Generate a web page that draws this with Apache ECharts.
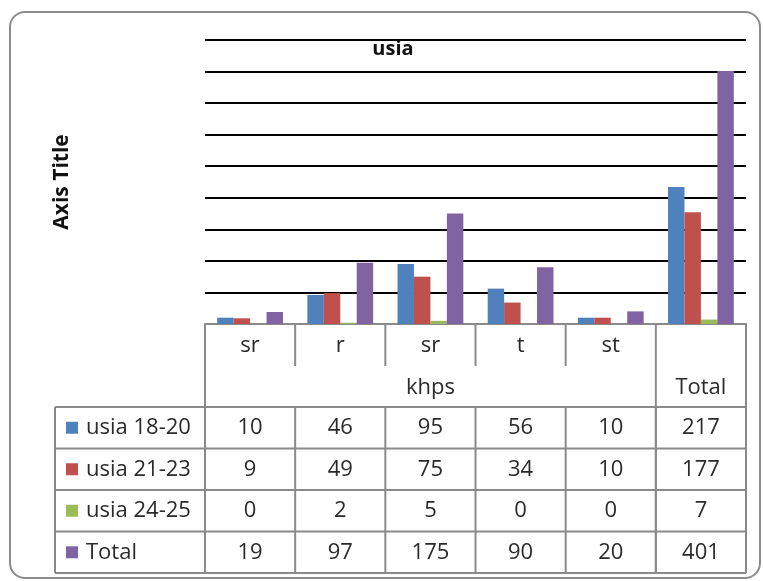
<!DOCTYPE html>
<html>
<head>
<meta charset="utf-8">
<script src="https://cdn.jsdelivr.net/npm/echarts@6/dist/echarts.min.js"></script>
<style>
  html, body { margin: 0; padding: 0; background: #fff; }
  #chart { width: 763px; height: 581px; }
</style>
</head>
<body>
<div id="chart"></div>
<script>
// Category labels (sub-level) and their parent group labels
const categories = ['sr', 'r', 'sr', 't', 'st', 'Total'];
const subLabels = ['sr', 'r', 'sr', 't', 'st', ''];
const groups = [{ name: 'khps', from: 0, to: 4 }, { name: 'Total', from: 5, to: 5 }];

// Series values
const seriesNames = ['usia 18-20', 'usia 21-23', 'usia 24-25', 'Total'];
const usia1820 = [10, 46, 95, 56, 10, 217];
const usia2123 = [9, 49, 75, 34, 10, 177];
const usia2425 = [0, 2, 5, 0, 0, 7];
const totals = [19, 97, 175, 90, 20, 401];
const seriesValues = [usia1820, usia2123, usia2425, totals];

const colors = ['#4F81BD', '#C0504D', '#9BBB59', '#8064A2'];
const font = '"Open Sans", "Noto Sans", sans-serif';
const textColor = '#2a2a2a';
const lineColor = '#8a8a8a';

const chart = echarts.init(document.getElementById('chart'), null, { renderer: 'canvas' });

const option = {
  animation: false,
  backgroundColor: '#fff',
  grid: { left: 205, right: 17, top: 40, bottom: 257, containLabel: false },
  xAxis: {
    type: 'category',
    data: categories,
    axisLine: { show: true, lineStyle: { color: lineColor, width: 2 } },
    axisTick: { show: false },
    axisLabel: { show: false },
    splitLine: { show: false }
  },
  yAxis: {
    type: 'value',
    min: 0,
    max: 450,
    interval: 50,
    name: 'Axis Title',
    nameLocation: 'middle',
    nameRotate: 90,
    nameGap: 132,
    nameTextStyle: { fontFamily: font, fontWeight: 'bold', fontSize: 21, color: '#111' },
    axisLine: { show: false },
    axisTick: { show: false },
    axisLabel: { show: false },
    splitLine: { show: true, lineStyle: { color: '#000', width: 2 } }
  },
  series: seriesValues.map((vals, i) => ({
    name: seriesNames[i],
    type: 'bar',
    data: vals,
    barGap: '0%',
    barCategoryGap: '27%',
    itemStyle: { color: colors[i] }
  }))
};
chart.setOption(option);

// Data table under the plot, aligned to the category bands
function buildTable() {
  const centers = categories.map((c, i) => chart.convertToPixel({ xAxisIndex: 0 }, i));
  const band = centers[1] - centers[0];
  const edges = centers.map(c => c - band / 2).concat([centers[centers.length - 1] + band / 2]);
  const axisY = chart.convertToPixel({ yAxisIndex: 0 }, 0);

  const subRowBottom = axisY + 42;
  const headerBottom = axisY + 83;
  const rowH = 41.5;
  const legendLeft = 55;
  const tableBottom = headerBottom + rowH * seriesNames.length;
  const els = [];
  const line = (x1, y1, x2, y2) => els.push({
    type: 'line', shape: { x1, y1, x2, y2 },
    style: { stroke: lineColor, lineWidth: 2 }, z: 10
  });
  const text = (x, y, t, align, extra) => els.push(Object.assign({
    type: 'text', x, y,
    style: { text: t, fontFamily: font, fontSize: 22, fill: textColor, align: align || 'center', verticalAlign: 'middle' },
    z: 11
  }, extra || {}));

  // header block: outer verticals
  line(edges[0], axisY, edges[0], tableBottom);
  line(edges[edges.length - 1], axisY, edges[edges.length - 1], tableBottom);
  // group separators / sub-category separators
  groups.forEach(g => {
    for (let k = g.from + 1; k <= g.to; k++) line(edges[k], axisY, edges[k], subRowBottom);
    if (g.to < categories.length - 1) line(edges[g.to + 1], axisY, edges[g.to + 1], tableBottom);
    const gx = (edges[g.from] + edges[g.to + 1]) / 2;
    text(gx, (subRowBottom + headerBottom) / 2 + 1, g.name);
  });
  subLabels.forEach((s, i) => { if (s) text(centers[i], (axisY + subRowBottom) / 2 + 1, s); });

  // body rows
  line(legendLeft, headerBottom, edges[edges.length - 1], headerBottom);
  line(legendLeft, headerBottom, legendLeft, tableBottom);
  for (let k = 1; k < categories.length; k++) line(edges[k], headerBottom, edges[k], tableBottom);
  seriesNames.forEach((name, r) => {
    const yTop = headerBottom + rowH * r;
    const yMid = yTop + rowH / 2;
    line(legendLeft, yTop + rowH, edges[edges.length - 1], yTop + rowH);
    els.push({ type: 'rect', shape: { x: legendLeft + 11, y: yMid - 6, width: 12, height: 12 }, style: { fill: colors[r] }, z: 11 });
    text(legendLeft + 31, yMid, name, 'left');
    seriesValues[r].forEach((v, i) => text(centers[i], yMid, String(v)));
  });

  // chart title
  els.push({
    type: 'text', x: 393, y: 49,
    style: { text: 'usia', fontFamily: font, fontSize: 20, fontWeight: 'bold', fill: '#111', align: 'center', verticalAlign: 'middle' },
    z: 12
  });
  // rounded chart frame
  els.push({
    type: 'rect', shape: { x: 10, y: 12, width: 750, height: 566, r: 15 },
    style: { fill: null, stroke: '#8c8c8c', lineWidth: 2 }, z: 1
  });

  chart.setOption({ graphic: { elements: els } });
}
buildTable();
</script>
</body>
</html>
